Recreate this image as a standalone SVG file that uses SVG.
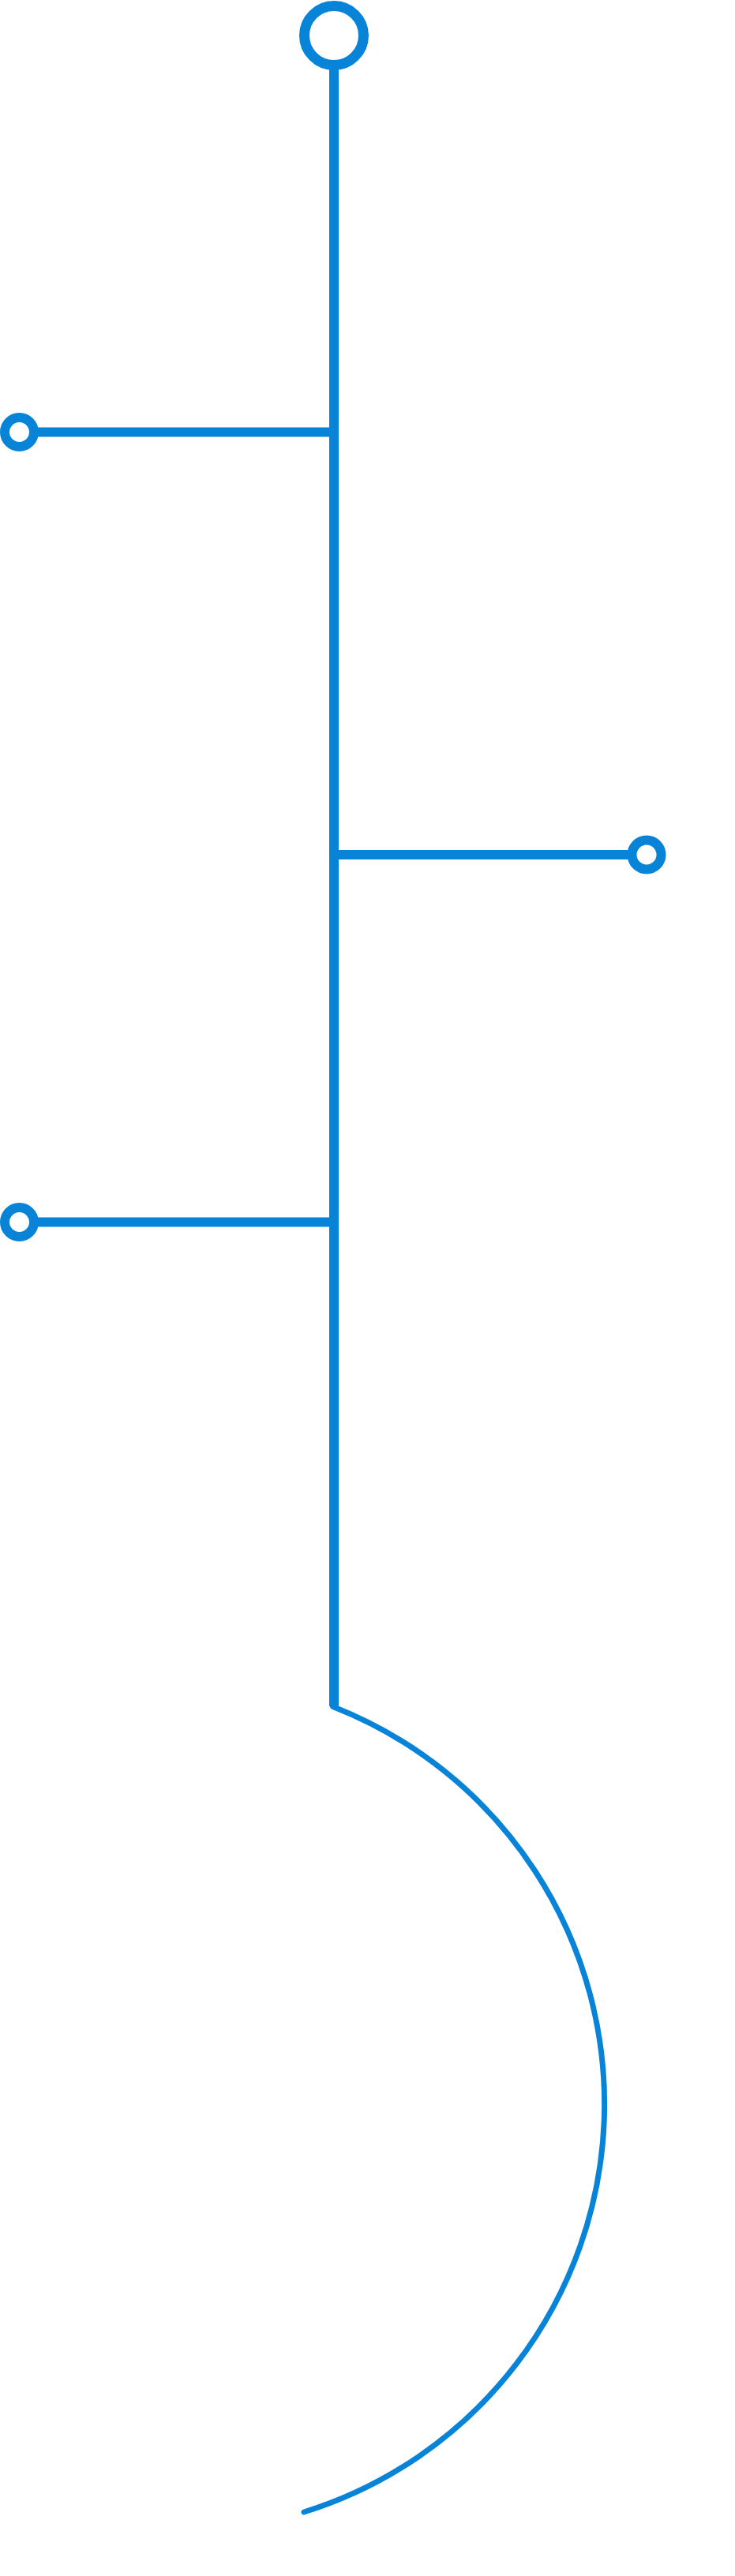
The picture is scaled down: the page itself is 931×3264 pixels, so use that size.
<svg xmlns="http://www.w3.org/2000/svg" width="931" height="3264" viewBox="0 0 931 3264">
<style>
.ring{fill:none;stroke:#0784d8;stroke-width:12}
.big{stroke-width:13}
.ln{fill:none;stroke:#0784d8;stroke-width:12}
.arc{fill:none;stroke:#0784d8;stroke-width:7;stroke-linecap:round}
</style>
<rect width="931" height="3264" fill="#ffffff"/>
<g id="connectors">
<line class="ln" x1="423" y1="88" x2="423" y2="2160" stroke-linecap="round"/>
<line class="ln" x1="42" y1="547.5" x2="423" y2="547.5"/>
<line class="ln" x1="423" y1="1083" x2="801" y2="1083"/>
<line class="ln" x1="42" y1="1548.5" x2="423" y2="1548.5"/>
<path class="arc" d="M 423 2163 A 541 541 0 0 1 385 3183"/>
</g>
<g id="node-top"><circle class="ring big" cx="423" cy="45" r="37.5"/></g>
<g id="node-left-1"><circle class="ring" cx="24.5" cy="547.5" r="18.5"/></g>
<g id="node-right"><circle class="ring" cx="819" cy="1083" r="18.5"/></g>
<g id="node-left-2"><circle class="ring" cx="24.5" cy="1548.5" r="18.5"/></g>
</svg>
